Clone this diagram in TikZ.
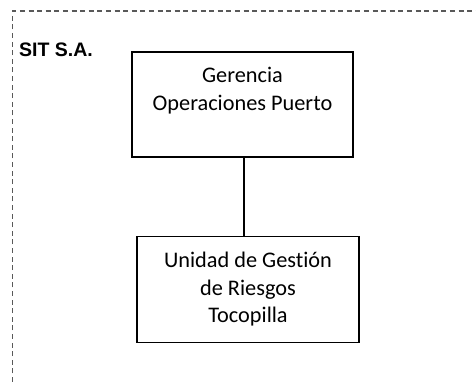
\documentclass[tikz,border=0pt]{standalone}
\usepackage{fontspec}
\setmainfont{Carlito}[Ligatures=NoCommon]
\newfontfamily\arialfont{Liberation Sans}
\usetikzlibrary{positioning}

\begin{document}
\begin{tikzpicture}[node distance=78pt, x=1pt, y=1pt]
	\useasboundingbox (0,0) rectangle (476,382);
	% dashed frame of the company
	\draw[color=black!65, line width=1.2pt, dash pattern=on 5pt off 3.6pt] (12.5,0) -- (12.5,371) -- (476,371);
	\node[anchor=base west, inner sep=0pt] (sit) at (19,325.5) {\arialfont\bfseries\fontsize{19.5}{23}\selectfont SIT S.A.};

	\node[draw, rectangle, line width=1.2pt, minimum width=221pt, minimum height=105pt, align=center, text depth=31pt, font=\fontsize{22.3}{27.5}\selectfont] (gerencia) at (242.5,277.5) {Gerencia\\Operaciones Puerto};
	\node[draw, rectangle, line width=1.2pt, minimum width=222pt, minimum height=106pt, align=center, font=\fontsize{22.3}{27.5}\selectfont, below=78pt of gerencia, xshift=5.5pt] (unidad) {Unidad de Gestión\\de Riesgos\\Tocopilla};

	\path[draw, line width=1.2pt] (gerencia.south -| 244,0) -- (unidad.north -| 244,0);
\end{tikzpicture}
\end{document}
